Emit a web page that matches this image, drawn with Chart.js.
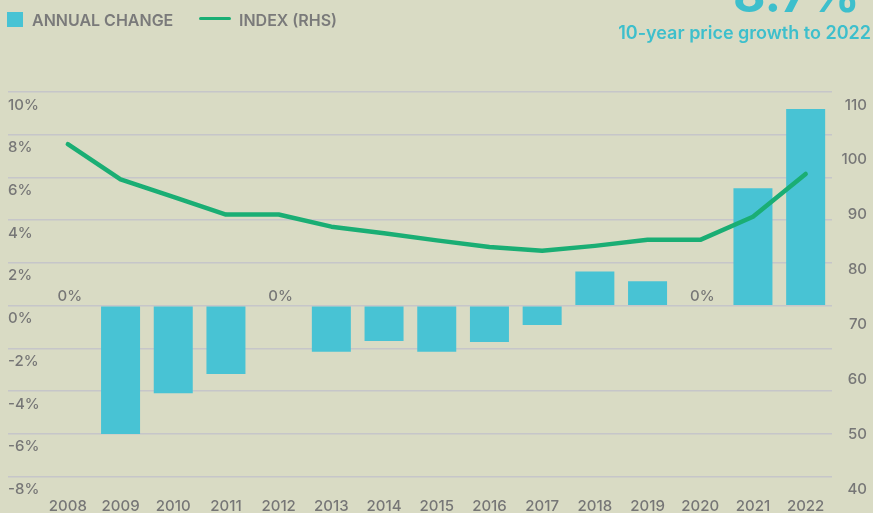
<!DOCTYPE html>
<html>
<head>
<meta charset="utf-8">
<script src="https://cdn.jsdelivr.net/npm/chart.js@4.4.0/dist/chart.umd.min.js"></script>
<style>
  html, body { margin: 0; padding: 0; background: #d9dbc4; }
  body { width: 873px; height: 513px; position: relative; overflow: hidden; font-family: Inter, "Open Sans", sans-serif; }
  #chart { position: absolute; left: 0; top: 0; }
  .big { position: absolute; top: -31px; left: 733px; font-size: 50px; line-height: 50px; font-weight: 700; color: #3dbfcc; white-space: nowrap; }
  .sub { position: absolute; top: 24px; right: 2px; font-size: 18px; line-height: 18px; font-weight: 600; color: #3dbfcc; white-space: nowrap; }
  .lg { position: absolute; font-size: 16px; line-height: 16px; font-weight: 600; color: #7a7a7a; white-space: nowrap; }
  .swatch { position: absolute; left: 7px; top: 12px; width: 16px; height: 15px; background: #48c3d4; }
  .lineSwatch { position: absolute; left: 199px; top: 17px; width: 32px; height: 3px; background: #1aae74; border-radius: 2px; }
</style>
</head>
<body>
<canvas id="chart" width="873" height="513"></canvas>
<div class="big">8.7%</div>
<div class="sub">10-year price growth to 2022</div>
<div class="swatch"></div>
<div class="lg" style="left:32px; top:12px;">ANNUAL CHANGE</div>
<div class="lineSwatch"></div>
<div class="lg" style="left:239px; top:12px;">INDEX (RHS)</div>
<script>
// Data
const years = ['2008', '2009', '2010', '2011', '2012', '2013', '2014', '2015', '2016', '2017', '2018', '2019', '2020', '2021', '2022'];
const annualChange = [0, -6.0, -4.1, -3.2, 0, -2.15, -1.65, -2.15, -1.7, -0.9, 1.6, 1.15, 0, 5.5, 9.2];
const indexRhs = [100.5, 94.1, 90.9, 87.7, 87.7, 85.5, 84.3, 83.0, 81.8, 81.1, 82.0, 83.1, 83.1, 87.3, 95.1];

const leftTicks = { min: -8, max: 10, step: 2 };
const rightTicks = { min: 40, max: 110, step: 10 };

const textGrey = '#767676';
const barColor = '#48c3d4';
const lineColor = '#1aae74';
const tickFont = { family: 'Inter', size: 15, weight: '500' };

// "0%" labels above the zero-value years
const zeroLabels = {
  id: 'zeroLabels',
  afterDatasetsDraw(chart) {
    const { ctx, scales: { x, y } } = chart;
    ctx.save();
    ctx.font = '500 15px Inter';
    ctx.fillStyle = textGrey;
    ctx.textAlign = 'center';
    ctx.textBaseline = 'middle';
    annualChange.forEach((v, i) => {
      if (v === 0) ctx.fillText('0%', x.getPixelForValue(i) + 2, y.getPixelForValue(0) - 9);
    });
    ctx.restore();
  }
};

new Chart(document.getElementById('chart'), {
  data: {
    labels: years,
    datasets: [
      {
        type: 'line',
        label: 'INDEX (RHS)',
        data: indexRhs,
        yAxisID: 'y2',
        borderColor: lineColor,
        borderWidth: 4.5,
        borderCapStyle: 'round',
        borderJoinStyle: 'round',
        pointRadius: 0,
        tension: 0,
        order: 0
      },
      {
        type: 'bar',
        label: 'ANNUAL CHANGE',
        data: annualChange,
        yAxisID: 'y',
        backgroundColor: barColor,
        barPercentage: 0.74,
        categoryPercentage: 1,
        order: 1
      }
    ]
  },
  options: {
    responsive: false,
    animation: false,
    layout: { padding: { top: 92, left: 8, right: 6, bottom: 0 } },
    plugins: { legend: { display: false }, tooltip: { enabled: false } },
    scales: {
      x: {
        grid: { display: false, drawTicks: false },
        border: { display: false },
        ticks: { color: textGrey, font: tickFont, padding: 21, maxRotation: 0, autoSkip: false },
        afterFit: (s) => { s.height = 36.3; }
      },
      y: {
        position: 'left',
        min: leftTicks.min,
        max: leftTicks.max,
        grid: { color: '#c6c6c9', lineWidth: 1.5, tickLength: 33.5, drawTicks: true },
        border: { display: false },
        ticks: {
          stepSize: leftTicks.step,
          color: textGrey,
          font: tickFont,
          crossAlign: 'far',
          labelOffset: 13,
          padding: 0,
          callback: (v) => v + '%'
        },
        afterFit: (s) => { s.width = 33.5; }
      },
      y2: {
        position: 'right',
        min: rightTicks.min,
        max: rightTicks.max,
        grid: { display: false, drawTicks: false },
        border: { display: false },
        ticks: {
          stepSize: rightTicks.step,
          color: textGrey,
          font: tickFont,
          crossAlign: 'far',
          labelOffset: 13,
          padding: 0
        },
        afterFit: (s) => { s.width = 35; }
      }
    }
  },
  plugins: [zeroLabels]
});
</script>
</body>
</html>
